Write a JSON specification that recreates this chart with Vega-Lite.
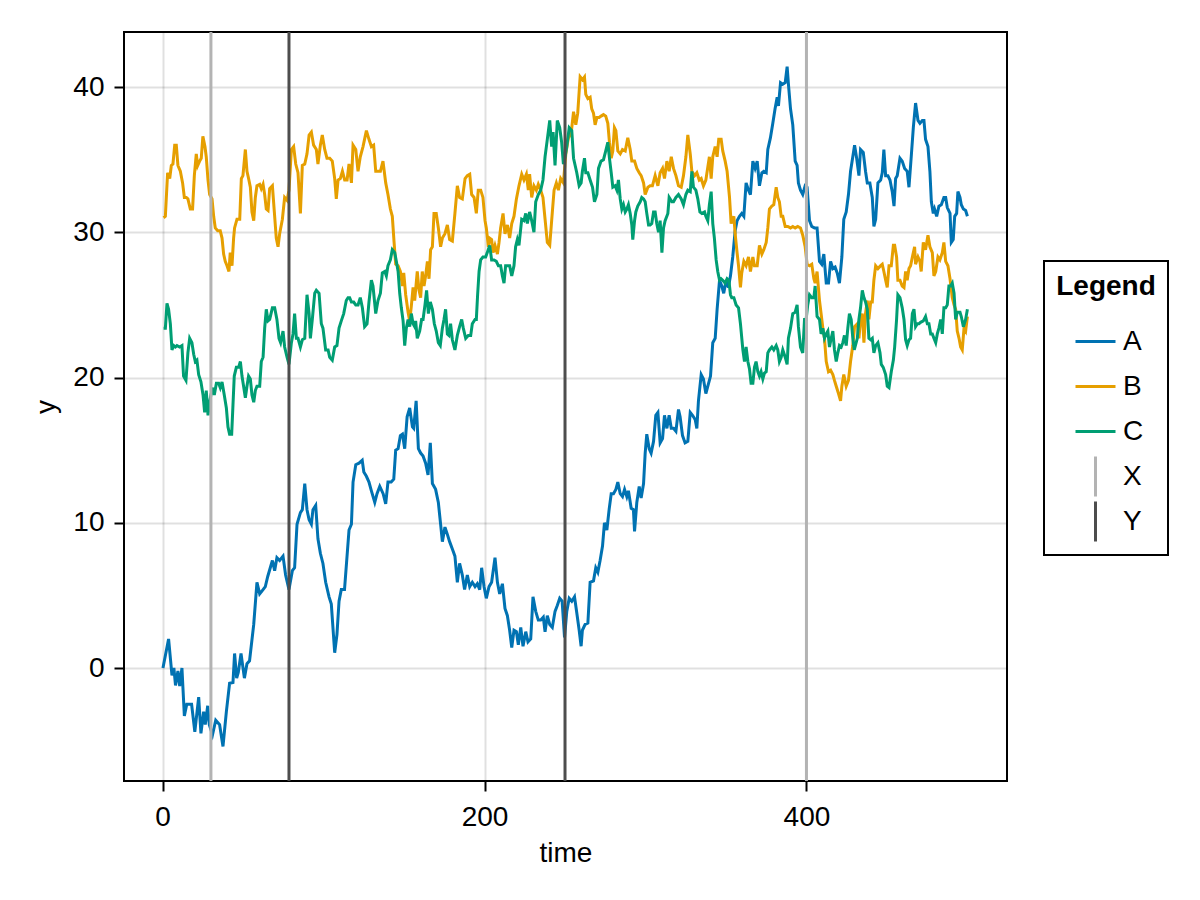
{
  "$schema": "https://vega.github.io/schema/vega-lite/v6.json",
  "width": 883,
  "height": 749,
  "autosize": {"type": "none"},
  "padding": {"left": 124, "top": 32, "right": 193, "bottom": 119},
  "background": "white",
  "config": {
    "font": "Liberation Sans",
    "view": {"stroke": "black", "strokeWidth": 2},
    "axis": {
      "grid": true,
      "gridColor": "black",
      "gridOpacity": 0.12,
      "gridWidth": 2,
      "domain": false,
      "ticks": true,
      "tickSize": 10,
      "tickWidth": 2,
      "tickColor": "black",
      "labelFontSize": 28,
      "labelColor": "black",
      "labelFlush": false,
      "titleFontSize": 28,
      "titleFontWeight": "normal",
      "titleColor": "black"
    }
  },
  "datasets": {
    "walks": [
      {"s":"A","t":0.2,"y":0},{"s":"A","t":3.7,"y":2.0},{"s":"A","t":5.8,"y":-0.5},{"s":"A","t":7,"y":0},{"s":"A","t":8,"y":-1.2},{"s":"A","t":9.5,"y":-0.2},{"s":"A","t":10.6,"y":-1.25},{"s":"A","t":12,"y":0},{"s":"A","t":13.5,"y":-3.3},{"s":"A","t":15,"y":-2.5},{"s":"A","t":18,"y":-2.5},{"s":"A","t":20,"y":-4.4},{"s":"A","t":22.4,"y":-2.0},{"s":"A","t":23.8,"y":-4.5},{"s":"A","t":25.5,"y":-3},{"s":"A","t":26.5,"y":-3.9},{"s":"A","t":28,"y":-2.6},{"s":"A","t":29,"y":-3.9},{"s":"A","t":31,"y":-4.6},{"s":"A","t":33,"y":-3.6},{"s":"A","t":35.4,"y":-3.9},{"s":"A","t":37.5,"y":-5.4},{"s":"A","t":39.6,"y":-3},{"s":"A","t":41.6,"y":-1.05},{"s":"A","t":43.7,"y":-1.0},{"s":"A","t":44.7,"y":1.0},{"s":"A","t":46,"y":-0.7},{"s":"A","t":47,"y":-0.3},{"s":"A","t":48.7,"y":1.0},{"s":"A","t":50.8,"y":-0.7},{"s":"A","t":52.4,"y":0.3},{"s":"A","t":54,"y":0.5},{"s":"A","t":56.6,"y":3.0},{"s":"A","t":58.6,"y":5.9},{"s":"A","t":60.3,"y":5.1},{"s":"A","t":62.4,"y":5.4},{"s":"A","t":63.8,"y":5.6},{"s":"A","t":65.3,"y":6.3},{"s":"A","t":68.2,"y":7.4},{"s":"A","t":69.6,"y":6.7},{"s":"A","t":71,"y":7.6},{"s":"A","t":72.7,"y":7.4},{"s":"A","t":74.8,"y":7.7},{"s":"A","t":76.4,"y":6.4},{"s":"A","t":78.5,"y":5.4},{"s":"A","t":80.6,"y":6.7},{"s":"A","t":82,"y":6.9},{"s":"A","t":83.5,"y":9.9},{"s":"A","t":85.6,"y":10.7},{"s":"A","t":86.8,"y":10.9},{"s":"A","t":88.3,"y":12.7},{"s":"A","t":89.7,"y":10.9},{"s":"A","t":91,"y":10.2},{"s":"A","t":92.4,"y":9.9},{"s":"A","t":93.4,"y":10.9},{"s":"A","t":95.1,"y":11.2},{"s":"A","t":96.5,"y":8.9},{"s":"A","t":98,"y":7.9},{"s":"A","t":99.6,"y":7.2},{"s":"A","t":101.3,"y":5.9},{"s":"A","t":103.4,"y":4.9},{"s":"A","t":104.8,"y":4.4},{"s":"A","t":106.9,"y":1.05},{"s":"A","t":108.3,"y":2.3},{"s":"A","t":109.6,"y":4.6},{"s":"A","t":111,"y":5.4},{"s":"A","t":113,"y":5.4},{"s":"A","t":115.8,"y":9.5},{"s":"A","t":117.3,"y":9.9},{"s":"A","t":118.3,"y":12.8},{"s":"A","t":120,"y":14.0},{"s":"A","t":122,"y":14.1},{"s":"A","t":124,"y":14.3},{"s":"A","t":125,"y":13.5},{"s":"A","t":126.6,"y":13.2},{"s":"A","t":128.2,"y":12.8},{"s":"A","t":129.7,"y":12.2},{"s":"A","t":131.8,"y":11.4},{"s":"A","t":133.2,"y":12.0},{"s":"A","t":134.9,"y":12.5},{"s":"A","t":137,"y":12.0},{"s":"A","t":138.6,"y":11.3},{"s":"A","t":140,"y":12.8},{"s":"A","t":142,"y":12.8},{"s":"A","t":143.6,"y":13.0},{"s":"A","t":144.8,"y":15.0},{"s":"A","t":146.3,"y":15.1},{"s":"A","t":147.7,"y":16.0},{"s":"A","t":149,"y":16.1},{"s":"A","t":150.4,"y":15.1},{"s":"A","t":151.9,"y":17.3},{"s":"A","t":153.5,"y":17.9},{"s":"A","t":155.2,"y":16.6},{"s":"A","t":156,"y":16.5},{"s":"A","t":157.5,"y":18.4},{"s":"A","t":158.9,"y":15.1},{"s":"A","t":160.3,"y":14.8},{"s":"A","t":161.8,"y":14.6},{"s":"A","t":163.4,"y":14.1},{"s":"A","t":164.9,"y":13.3},{"s":"A","t":166.3,"y":15.5},{"s":"A","t":167.6,"y":12.7},{"s":"A","t":169.6,"y":12.3},{"s":"A","t":171.3,"y":11.4},{"s":"A","t":172.7,"y":9.9},{"s":"A","t":173.8,"y":8.7},{"s":"A","t":175.4,"y":9.7},{"s":"A","t":176.9,"y":9.2},{"s":"A","t":178.3,"y":8.7},{"s":"A","t":180,"y":8.2},{"s":"A","t":181.6,"y":7.7},{"s":"A","t":183.1,"y":5.9},{"s":"A","t":184.5,"y":7.2},{"s":"A","t":186.2,"y":6.4},{"s":"A","t":187.6,"y":5.4},{"s":"A","t":189.3,"y":6.4},{"s":"A","t":190.8,"y":5.6},{"s":"A","t":192.4,"y":5.9},{"s":"A","t":194.1,"y":5.6},{"s":"A","t":195.5,"y":5.8},{"s":"A","t":197,"y":5.4},{"s":"A","t":198.2,"y":6.9},{"s":"A","t":199.7,"y":5.6},{"s":"A","t":201.1,"y":4.8},{"s":"A","t":202.8,"y":5.6},{"s":"A","t":204.4,"y":5.9},{"s":"A","t":206.5,"y":7.6},{"s":"A","t":208,"y":5.9},{"s":"A","t":209.4,"y":5.1},{"s":"A","t":211.1,"y":5.8},{"s":"A","t":212.7,"y":4.1},{"s":"A","t":214.2,"y":3.6},{"s":"A","t":215.6,"y":2.6},{"s":"A","t":216.9,"y":1.4},{"s":"A","t":218.3,"y":2.6},{"s":"A","t":219.8,"y":2.5},{"s":"A","t":221,"y":1.6},{"s":"A","t":222.5,"y":2.8},{"s":"A","t":223.9,"y":1.5},{"s":"A","t":225.6,"y":2.5},{"s":"A","t":227,"y":1.8},{"s":"A","t":228.7,"y":2.0},{"s":"A","t":230.1,"y":4.9},{"s":"A","t":231.8,"y":3.9},{"s":"A","t":233.4,"y":3.3},{"s":"A","t":234.9,"y":3.3},{"s":"A","t":236.5,"y":3.5},{"s":"A","t":237.6,"y":2.5},{"s":"A","t":239,"y":3.6},{"s":"A","t":240.5,"y":3.0},{"s":"A","t":242.1,"y":2.8},{"s":"A","t":243.8,"y":3.9},{"s":"A","t":245.2,"y":4.3},{"s":"A","t":246.7,"y":4.8},{"s":"A","t":248.2,"y":4.6},{"s":"A","t":249.7,"y":2.1},{"s":"A","t":251.1,"y":3.9},{"s":"A","t":252.6,"y":4.8},{"s":"A","t":254.2,"y":4.6},{"s":"A","t":255.9,"y":4.9},{"s":"A","t":257.3,"y":3.8},{"s":"A","t":258.8,"y":2.6},{"s":"A","t":260,"y":1.5},{"s":"A","t":260.8,"y":2.6},{"s":"A","t":262.5,"y":3.0},{"s":"A","t":264.2,"y":3.1},{"s":"A","t":265.6,"y":5.9},{"s":"A","t":267.7,"y":6.0},{"s":"A","t":269.1,"y":6.9},{"s":"A","t":270.4,"y":6.6},{"s":"A","t":271.8,"y":7.4},{"s":"A","t":273.3,"y":8.4},{"s":"A","t":274.5,"y":10.0},{"s":"A","t":276,"y":9.5},{"s":"A","t":277.4,"y":10.9},{"s":"A","t":278.7,"y":12.0},{"s":"A","t":280.1,"y":12.0},{"s":"A","t":281.6,"y":12.3},{"s":"A","t":282.8,"y":12.8},{"s":"A","t":284.3,"y":12.0},{"s":"A","t":285.7,"y":11.8},{"s":"A","t":287,"y":12.3},{"s":"A","t":288.4,"y":11.8},{"s":"A","t":289.4,"y":12.2},{"s":"A","t":291.1,"y":11.0},{"s":"A","t":292.5,"y":10.9},{"s":"A","t":293.2,"y":9.4},{"s":"A","t":294.6,"y":11.4},{"s":"A","t":296.1,"y":12.5},{"s":"A","t":297.3,"y":11.7},{"s":"A","t":298.8,"y":12.7},{"s":"A","t":299.8,"y":14.8},{"s":"A","t":300.8,"y":16.1},{"s":"A","t":302.3,"y":15.1},{"s":"A","t":303.5,"y":14.8},{"s":"A","t":305,"y":15.6},{"s":"A","t":306.4,"y":17.4},{"s":"A","t":307.7,"y":17.6},{"s":"A","t":309.1,"y":15.5},{"s":"A","t":310.6,"y":15.8},{"s":"A","t":311.8,"y":17.4},{"s":"A","t":313.3,"y":16.5},{"s":"A","t":314.7,"y":17.4},{"s":"A","t":316,"y":16.5},{"s":"A","t":317.4,"y":16.5},{"s":"A","t":318.9,"y":16.3},{"s":"A","t":320.5,"y":17.8},{"s":"A","t":321.5,"y":17.3},{"s":"A","t":323,"y":16.0},{"s":"A","t":324.6,"y":15.5},{"s":"A","t":326.3,"y":15.6},{"s":"A","t":327.8,"y":17.6},{"s":"A","t":329.2,"y":17.4},{"s":"A","t":330.9,"y":17.1},{"s":"A","t":331.9,"y":16.5},{"s":"A","t":332.9,"y":18.4},{"s":"A","t":334.6,"y":20.2},{"s":"A","t":336,"y":19.9},{"s":"A","t":337.5,"y":18.9},{"s":"A","t":340.4,"y":20.1},{"s":"A","t":341.8,"y":22.4},{"s":"A","t":343.3,"y":22.7},{"s":"A","t":344.5,"y":24.7},{"s":"A","t":346,"y":26.7},{"s":"A","t":347.4,"y":26.3},{"s":"A","t":348.6,"y":25.8},{"s":"A","t":350.1,"y":26.7},{"s":"A","t":351.5,"y":26.2},{"s":"A","t":352.8,"y":27.0},{"s":"A","t":354.2,"y":28.3},{"s":"A","t":355.7,"y":30.1},{"s":"A","t":356.9,"y":30.8},{"s":"A","t":358.4,"y":31.1},{"s":"A","t":359.8,"y":31.3},{"s":"A","t":361.1,"y":31.1},{"s":"A","t":362.5,"y":33.4},{"s":"A","t":364,"y":32.9},{"s":"A","t":365.2,"y":32.6},{"s":"A","t":366.7,"y":34.9},{"s":"A","t":368.1,"y":34.4},{"s":"A","t":369.4,"y":34.9},{"s":"A","t":370.8,"y":33.2},{"s":"A","t":372.3,"y":34.1},{"s":"A","t":373.5,"y":34.2},{"s":"A","t":375,"y":34.1},{"s":"A","t":376,"y":35.7},{"s":"A","t":377.6,"y":36.5},{"s":"A","t":379.1,"y":37.5},{"s":"A","t":380.5,"y":38.5},{"s":"A","t":381.8,"y":39.3},{"s":"A","t":382.6,"y":38.7},{"s":"A","t":383.9,"y":40.3},{"s":"A","t":385.3,"y":40.2},{"s":"A","t":386.8,"y":40.3},{"s":"A","t":388,"y":41.4},{"s":"A","t":388.8,"y":40.2},{"s":"A","t":390.1,"y":38.5},{"s":"A","t":391.5,"y":37.4},{"s":"A","t":393,"y":34.9},{"s":"A","t":394.2,"y":34.6},{"s":"A","t":395,"y":33.4},{"s":"A","t":396.3,"y":32.9},{"s":"A","t":397.7,"y":32.6},{"s":"A","t":399.2,"y":33.2},{"s":"A","t":400.4,"y":33.1},{"s":"A","t":401.9,"y":30.8},{"s":"A","t":403.3,"y":30.4},{"s":"A","t":405,"y":30.3},{"s":"A","t":406.6,"y":30.3},{"s":"A","t":408.1,"y":28.0},{"s":"A","t":409.5,"y":27.8},{"s":"A","t":410.8,"y":28.5},{"s":"A","t":412.3,"y":26.5},{"s":"A","t":413.7,"y":26.5},{"s":"A","t":415,"y":28.0},{"s":"A","t":416.4,"y":27.5},{"s":"A","t":417.8,"y":27.6},{"s":"A","t":419.1,"y":27.2},{"s":"A","t":420.5,"y":26.5},{"s":"A","t":422,"y":28.3},{"s":"A","t":423.2,"y":30.9},{"s":"A","t":424.7,"y":31.4},{"s":"A","t":426.1,"y":32.6},{"s":"A","t":427.4,"y":34.2},{"s":"A","t":428.8,"y":35.2},{"s":"A","t":429.9,"y":36.0},{"s":"A","t":431.2,"y":35.1},{"s":"A","t":432.6,"y":33.9},{"s":"A","t":433.6,"y":35.7},{"s":"A","t":435.3,"y":35.5},{"s":"A","t":436.7,"y":34.2},{"s":"A","t":437.8,"y":33.4},{"s":"A","t":439.4,"y":33.4},{"s":"A","t":440.9,"y":32.4},{"s":"A","t":441.9,"y":30.4},{"s":"A","t":443,"y":30.9},{"s":"A","t":444.4,"y":33.4},{"s":"A","t":446.1,"y":33.6},{"s":"A","t":447.1,"y":34.1},{"s":"A","t":448.1,"y":35.7},{"s":"A","t":449.2,"y":33.9},{"s":"A","t":450.6,"y":33.9},{"s":"A","t":451.9,"y":33.6},{"s":"A","t":453.3,"y":32.8},{"s":"A","t":454.4,"y":31.8},{"s":"A","t":455.4,"y":33.7},{"s":"A","t":456.4,"y":33.9},{"s":"A","t":458.1,"y":35.1},{"s":"A","t":459.5,"y":34.9},{"s":"A","t":461,"y":34.4},{"s":"A","t":462.6,"y":34.2},{"s":"A","t":463.7,"y":33.1},{"s":"A","t":465.1,"y":35.2},{"s":"A","t":466.4,"y":37.2},{"s":"A","t":467.8,"y":38.9},{"s":"A","t":469.3,"y":37.7},{"s":"A","t":470.5,"y":37.5},{"s":"A","t":472,"y":37.7},{"s":"A","t":473,"y":37.7},{"s":"A","t":474,"y":36.4},{"s":"A","t":475.5,"y":35.9},{"s":"A","t":476.7,"y":34.2},{"s":"A","t":477.6,"y":32.1},{"s":"A","t":478.8,"y":31.3},{"s":"A","t":479.6,"y":31.6},{"s":"A","t":480.9,"y":31.1},{"s":"A","t":482.3,"y":31.8},{"s":"A","t":483.8,"y":31.9},{"s":"A","t":485.4,"y":32.4},{"s":"A","t":486.5,"y":32.4},{"s":"A","t":487.5,"y":31.7},{"s":"A","t":489.2,"y":31.3},{"s":"A","t":490,"y":29.3},{"s":"A","t":491.2,"y":29.5},{"s":"A","t":492.1,"y":31.1},{"s":"A","t":493.3,"y":31.3},{"s":"A","t":494.1,"y":32.8},{"s":"A","t":495.4,"y":32.4},{"s":"A","t":496.2,"y":31.9},{"s":"A","t":497.5,"y":31.6},{"s":"A","t":498.9,"y":31.5},{"s":"A","t":500,"y":31.1},
      {"s":"B","t":0.6,"y":31.0},{"s":"B","t":1.7,"y":31.1},{"s":"B","t":3.1,"y":34.1},{"s":"B","t":4.4,"y":33.7},{"s":"B","t":5.4,"y":34.6},{"s":"B","t":6.4,"y":34.7},{"s":"B","t":7.5,"y":36.0},{"s":"B","t":8.5,"y":36.0},{"s":"B","t":9.5,"y":34.6},{"s":"B","t":11,"y":34.2},{"s":"B","t":12.4,"y":33.4},{"s":"B","t":13.5,"y":32.4},{"s":"B","t":14.7,"y":32.4},{"s":"B","t":15.7,"y":32.3},{"s":"B","t":17.2,"y":31.6},{"s":"B","t":18.6,"y":31.6},{"s":"B","t":19.7,"y":33.9},{"s":"B","t":20.9,"y":35.4},{"s":"B","t":21.8,"y":34.6},{"s":"B","t":23,"y":34.9},{"s":"B","t":24,"y":35.1},{"s":"B","t":25,"y":36.6},{"s":"B","t":26.3,"y":35.9},{"s":"B","t":27.1,"y":35.2},{"s":"B","t":28.2,"y":33.6},{"s":"B","t":29.2,"y":32.6},{"s":"B","t":30.7,"y":32.3},{"s":"B","t":31.7,"y":31.1},{"s":"B","t":32.7,"y":30.3},{"s":"B","t":34.2,"y":30.1},{"s":"B","t":35.8,"y":30.1},{"s":"B","t":36.9,"y":29.6},{"s":"B","t":37.9,"y":28.5},{"s":"B","t":38.9,"y":28.0},{"s":"B","t":40,"y":27.7},{"s":"B","t":41.2,"y":27.3},{"s":"B","t":42,"y":28.6},{"s":"B","t":43.1,"y":27.7},{"s":"B","t":44.1,"y":29.6},{"s":"B","t":44.7,"y":30.3},{"s":"B","t":46.2,"y":30.9},{"s":"B","t":47.9,"y":30.9},{"s":"B","t":48.9,"y":33.7},{"s":"B","t":49.9,"y":33.9},{"s":"B","t":51.4,"y":35.7},{"s":"B","t":52.4,"y":34.2},{"s":"B","t":53.4,"y":33.7},{"s":"B","t":54.5,"y":33.1},{"s":"B","t":55.5,"y":31.4},{"s":"B","t":56.6,"y":30.8},{"s":"B","t":57.6,"y":32.4},{"s":"B","t":58.6,"y":33.2},{"s":"B","t":60.3,"y":33.3},{"s":"B","t":61.3,"y":33.0},{"s":"B","t":62.4,"y":33.3},{"s":"B","t":63.4,"y":32.6},{"s":"B","t":64.4,"y":31.6},{"s":"B","t":65.5,"y":31.5},{"s":"B","t":66.5,"y":33.0},{"s":"B","t":68.2,"y":33.2},{"s":"B","t":69.4,"y":31.4},{"s":"B","t":70.6,"y":29.6},{"s":"B","t":71.7,"y":29.0},{"s":"B","t":72.7,"y":29.9},{"s":"B","t":74.4,"y":30.9},{"s":"B","t":75.8,"y":32.4},{"s":"B","t":77.3,"y":32.2},{"s":"B","t":78.5,"y":32.9},{"s":"B","t":80,"y":35.7},{"s":"B","t":81.4,"y":35.9},{"s":"B","t":82.7,"y":34.7},{"s":"B","t":84.1,"y":34.1},{"s":"B","t":85.6,"y":31.3},{"s":"B","t":86.8,"y":34.6},{"s":"B","t":88.3,"y":34.7},{"s":"B","t":89.7,"y":35.4},{"s":"B","t":91,"y":36.7},{"s":"B","t":92.4,"y":36.9},{"s":"B","t":93.8,"y":36.0},{"s":"B","t":95.5,"y":35.7},{"s":"B","t":96.5,"y":34.7},{"s":"B","t":98,"y":36.0},{"s":"B","t":99.2,"y":36.7},{"s":"B","t":100.7,"y":35.7},{"s":"B","t":102.1,"y":35.1},{"s":"B","t":103.8,"y":35.1},{"s":"B","t":105.4,"y":34.9},{"s":"B","t":106.9,"y":33.7},{"s":"B","t":107.9,"y":32.3},{"s":"B","t":109,"y":33.6},{"s":"B","t":110.4,"y":33.7},{"s":"B","t":111.7,"y":34.2},{"s":"B","t":113.1,"y":33.6},{"s":"B","t":114.6,"y":33.6},{"s":"B","t":115.8,"y":34.7},{"s":"B","t":117.3,"y":33.4},{"s":"B","t":118.3,"y":36.0},{"s":"B","t":120,"y":35.7},{"s":"B","t":121.4,"y":34.2},{"s":"B","t":122.8,"y":35.2},{"s":"B","t":124.5,"y":35.9},{"s":"B","t":126.6,"y":37.0},{"s":"B","t":128.2,"y":36.4},{"s":"B","t":129.7,"y":35.9},{"s":"B","t":131.1,"y":36.0},{"s":"B","t":132.4,"y":34.2},{"s":"B","t":133.8,"y":34.2},{"s":"B","t":135.3,"y":34.2},{"s":"B","t":136.9,"y":34.9},{"s":"B","t":138.6,"y":33.4},{"s":"B","t":140,"y":32.6},{"s":"B","t":141.5,"y":31.6},{"s":"B","t":142.7,"y":31.1},{"s":"B","t":143.8,"y":29.3},{"s":"B","t":144.8,"y":27.8},{"s":"B","t":146.3,"y":27.7},{"s":"B","t":147.7,"y":27.3},{"s":"B","t":149,"y":26.3},{"s":"B","t":149.8,"y":27.2},{"s":"B","t":151,"y":25.7},{"s":"B","t":152.5,"y":24.5},{"s":"B","t":153.5,"y":23.9},{"s":"B","t":154.5,"y":24.9},{"s":"B","t":155.6,"y":26.2},{"s":"B","t":156.6,"y":25.3},{"s":"B","t":158.2,"y":27.3},{"s":"B","t":159.3,"y":26.0},{"s":"B","t":160.3,"y":25.5},{"s":"B","t":161.3,"y":27.3},{"s":"B","t":162.4,"y":26.3},{"s":"B","t":163.4,"y":27.0},{"s":"B","t":164.5,"y":28.0},{"s":"B","t":165.5,"y":26.8},{"s":"B","t":166.5,"y":28.8},{"s":"B","t":167.6,"y":29.0},{"s":"B","t":168.6,"y":31.3},{"s":"B","t":170,"y":31.3},{"s":"B","t":171.3,"y":30.3},{"s":"B","t":172.7,"y":29.0},{"s":"B","t":173.8,"y":29.6},{"s":"B","t":175.4,"y":29.9},{"s":"B","t":176.9,"y":30.5},{"s":"B","t":178.3,"y":29.5},{"s":"B","t":180,"y":29.4},{"s":"B","t":181.6,"y":31.3},{"s":"B","t":183.1,"y":33.2},{"s":"B","t":184.5,"y":32.4},{"s":"B","t":186.2,"y":32.3},{"s":"B","t":187.9,"y":33.7},{"s":"B","t":189.3,"y":33.9},{"s":"B","t":190.8,"y":34.0},{"s":"B","t":192,"y":32.6},{"s":"B","t":193.5,"y":32.4},{"s":"B","t":194.9,"y":31.3},{"s":"B","t":196.1,"y":32.9},{"s":"B","t":197.6,"y":32.9},{"s":"B","t":199,"y":32.4},{"s":"B","t":200.3,"y":30.8},{"s":"B","t":201.1,"y":30.3},{"s":"B","t":202.4,"y":29.0},{"s":"B","t":203.2,"y":29.6},{"s":"B","t":204.4,"y":29.5},{"s":"B","t":205.3,"y":28.6},{"s":"B","t":206.5,"y":29.1},{"s":"B","t":208,"y":28.5},{"s":"B","t":209,"y":29.3},{"s":"B","t":210,"y":30.3},{"s":"B","t":211.5,"y":31.3},{"s":"B","t":212.7,"y":29.9},{"s":"B","t":214.2,"y":30.5},{"s":"B","t":215.6,"y":29.6},{"s":"B","t":216.9,"y":30.6},{"s":"B","t":218.3,"y":31.1},{"s":"B","t":219.8,"y":32.3},{"s":"B","t":221.4,"y":33.2},{"s":"B","t":223.1,"y":34.0},{"s":"B","t":224.5,"y":33.6},{"s":"B","t":226,"y":34.0},{"s":"B","t":227.2,"y":32.9},{"s":"B","t":228,"y":34.0},{"s":"B","t":229.3,"y":32.4},{"s":"B","t":230.7,"y":33.2},{"s":"B","t":232.2,"y":32.9},{"s":"B","t":233.4,"y":33.3},{"s":"B","t":234.9,"y":32.9},{"s":"B","t":236.3,"y":32.4},{"s":"B","t":237.6,"y":30.9},{"s":"B","t":239,"y":29.3},{"s":"B","t":240.5,"y":29.1},{"s":"B","t":241.7,"y":30.8},{"s":"B","t":243.2,"y":32.9},{"s":"B","t":244.6,"y":33.4},{"s":"B","t":245.9,"y":32.9},{"s":"B","t":247.3,"y":33.7},{"s":"B","t":249,"y":33.4},{"s":"B","t":250.5,"y":35.4},{"s":"B","t":252.1,"y":36.5},{"s":"B","t":253.8,"y":36.8},{"s":"B","t":255.3,"y":38.3},{"s":"B","t":256.7,"y":37.4},{"s":"B","t":257.9,"y":38.2},{"s":"B","t":259.4,"y":40.7},{"s":"B","t":260.8,"y":40.5},{"s":"B","t":262.1,"y":40.7},{"s":"B","t":262.9,"y":39.5},{"s":"B","t":264.2,"y":39.2},{"s":"B","t":265.6,"y":39.3},{"s":"B","t":266.6,"y":38.5},{"s":"B","t":267.7,"y":38.2},{"s":"B","t":268.7,"y":37.4},{"s":"B","t":269.8,"y":37.9},{"s":"B","t":271.2,"y":37.9},{"s":"B","t":272.4,"y":38.0},{"s":"B","t":273.9,"y":38.1},{"s":"B","t":275.3,"y":38.0},{"s":"B","t":276.6,"y":37.5},{"s":"B","t":277.6,"y":36.2},{"s":"B","t":278.7,"y":35.1},{"s":"B","t":279.7,"y":35.6},{"s":"B","t":280.7,"y":37.2},{"s":"B","t":281.6,"y":37.0},{"s":"B","t":282.8,"y":35.6},{"s":"B","t":284.3,"y":35.4},{"s":"B","t":285.7,"y":35.7},{"s":"B","t":287.4,"y":35.6},{"s":"B","t":289,"y":36.5},{"s":"B","t":290.5,"y":35.7},{"s":"B","t":291.5,"y":34.9},{"s":"B","t":293.2,"y":34.9},{"s":"B","t":294.6,"y":34.4},{"s":"B","t":296.1,"y":34.1},{"s":"B","t":297.3,"y":33.9},{"s":"B","t":298.8,"y":33.4},{"s":"B","t":299.8,"y":32.6},{"s":"B","t":301.5,"y":33.1},{"s":"B","t":302.9,"y":33.2},{"s":"B","t":304.3,"y":33.2},{"s":"B","t":306,"y":33.9},{"s":"B","t":307.7,"y":33.2},{"s":"B","t":309.1,"y":34.1},{"s":"B","t":310.6,"y":34.4},{"s":"B","t":311.8,"y":33.7},{"s":"B","t":313.3,"y":34.9},{"s":"B","t":314.7,"y":34.2},{"s":"B","t":316,"y":35.2},{"s":"B","t":317.4,"y":34.4},{"s":"B","t":318.9,"y":33.9},{"s":"B","t":320.5,"y":33.2},{"s":"B","t":322.2,"y":33.1},{"s":"B","t":323.6,"y":33.9},{"s":"B","t":325.1,"y":35.2},{"s":"B","t":326.3,"y":36.7},{"s":"B","t":327.8,"y":35.4},{"s":"B","t":328.8,"y":34.2},{"s":"B","t":330.5,"y":33.9},{"s":"B","t":331.9,"y":34.1},{"s":"B","t":333.4,"y":33.6},{"s":"B","t":334.6,"y":33.7},{"s":"B","t":336,"y":33.2},{"s":"B","t":337.5,"y":33.6},{"s":"B","t":339.7,"y":35.2},{"s":"B","t":340.8,"y":33.7},{"s":"B","t":341.8,"y":35.2},{"s":"B","t":343.3,"y":35.9},{"s":"B","t":344.5,"y":35.2},{"s":"B","t":345.5,"y":36.4},{"s":"B","t":347,"y":36.4},{"s":"B","t":348,"y":35.6},{"s":"B","t":349.5,"y":34.9},{"s":"B","t":350.7,"y":34.2},{"s":"B","t":352.2,"y":32.4},{"s":"B","t":353.2,"y":30.6},{"s":"B","t":354.9,"y":31.1},{"s":"B","t":355.7,"y":29.9},{"s":"B","t":356.9,"y":28.6},{"s":"B","t":357.8,"y":27.7},{"s":"B","t":359,"y":26.2},{"s":"B","t":359.8,"y":27.2},{"s":"B","t":361.1,"y":28.0},{"s":"B","t":362.5,"y":27.7},{"s":"B","t":364,"y":28.3},{"s":"B","t":365.2,"y":27.3},{"s":"B","t":366.7,"y":28.3},{"s":"B","t":367.7,"y":27.7},{"s":"B","t":369.4,"y":27.7},{"s":"B","t":370.8,"y":29.1},{"s":"B","t":372.3,"y":28.5},{"s":"B","t":373.5,"y":28.8},{"s":"B","t":375,"y":29.3},{"s":"B","t":376,"y":30.3},{"s":"B","t":377,"y":31.6},{"s":"B","t":378.5,"y":31.8},{"s":"B","t":379.7,"y":31.9},{"s":"B","t":381.2,"y":33.1},{"s":"B","t":382.2,"y":32.4},{"s":"B","t":383.2,"y":32.1},{"s":"B","t":384.3,"y":31.1},{"s":"B","t":385.3,"y":31.1},{"s":"B","t":386.8,"y":30.4},{"s":"B","t":388.4,"y":30.4},{"s":"B","t":390.1,"y":30.3},{"s":"B","t":391.5,"y":30.4},{"s":"B","t":393,"y":30.3},{"s":"B","t":394.6,"y":30.4},{"s":"B","t":396.3,"y":30.3},{"s":"B","t":397.7,"y":29.8},{"s":"B","t":399.2,"y":29.0},{"s":"B","t":400.4,"y":27.8},{"s":"B","t":401.9,"y":27.7},{"s":"B","t":403.3,"y":27.8},{"s":"B","t":404.6,"y":26.8},{"s":"B","t":405.4,"y":26.5},{"s":"B","t":406.6,"y":27.3},{"s":"B","t":408.1,"y":25.3},{"s":"B","t":409.1,"y":24.4},{"s":"B","t":410.2,"y":23.4},{"s":"B","t":411.2,"y":22.7},{"s":"B","t":412.3,"y":21.1},{"s":"B","t":413.7,"y":20.4},{"s":"B","t":415,"y":20.5},{"s":"B","t":416.4,"y":20.2},{"s":"B","t":417.4,"y":19.8},{"s":"B","t":418.5,"y":19.4},{"s":"B","t":419.9,"y":18.9},{"s":"B","t":421.2,"y":18.4},{"s":"B","t":422,"y":19.4},{"s":"B","t":423.2,"y":20.2},{"s":"B","t":424.7,"y":19.4},{"s":"B","t":426.1,"y":19.8},{"s":"B","t":427.4,"y":21.1},{"s":"B","t":428.8,"y":22.2},{"s":"B","t":429.9,"y":23.5},{"s":"B","t":431.6,"y":23.7},{"s":"B","t":432.6,"y":22.7},{"s":"B","t":433.6,"y":24.0},{"s":"B","t":434.7,"y":24.4},{"s":"B","t":435.7,"y":22.4},{"s":"B","t":436.7,"y":24.4},{"s":"B","t":437.8,"y":25.3},{"s":"B","t":438.8,"y":24.0},{"s":"B","t":439.9,"y":25.2},{"s":"B","t":440.9,"y":25.2},{"s":"B","t":441.9,"y":26.7},{"s":"B","t":443,"y":27.7},{"s":"B","t":444.4,"y":27.5},{"s":"B","t":446.1,"y":27.7},{"s":"B","t":447.1,"y":27.8},{"s":"B","t":448.1,"y":27.3},{"s":"B","t":449.2,"y":26.7},{"s":"B","t":450.2,"y":26.2},{"s":"B","t":451.3,"y":27.7},{"s":"B","t":452.7,"y":27.7},{"s":"B","t":454,"y":29.1},{"s":"B","t":454.8,"y":29.1},{"s":"B","t":456,"y":28.3},{"s":"B","t":456.8,"y":26.7},{"s":"B","t":458.1,"y":26.7},{"s":"B","t":459.5,"y":26.3},{"s":"B","t":460.6,"y":26.2},{"s":"B","t":461.6,"y":27.3},{"s":"B","t":462.6,"y":26.7},{"s":"B","t":463.7,"y":27.5},{"s":"B","t":464.7,"y":27.7},{"s":"B","t":465.8,"y":28.3},{"s":"B","t":467.2,"y":29.0},{"s":"B","t":467.8,"y":27.8},{"s":"B","t":469.3,"y":28.3},{"s":"B","t":470.5,"y":28.0},{"s":"B","t":471.3,"y":27.3},{"s":"B","t":472.6,"y":29.3},{"s":"B","t":474,"y":28.8},{"s":"B","t":475.5,"y":29.8},{"s":"B","t":476.7,"y":29.0},{"s":"B","t":478.2,"y":28.6},{"s":"B","t":479.2,"y":27.0},{"s":"B","t":480.3,"y":27.3},{"s":"B","t":481.7,"y":28.3},{"s":"B","t":482.9,"y":28.1},{"s":"B","t":484.4,"y":28.6},{"s":"B","t":485.4,"y":29.3},{"s":"B","t":486.5,"y":28.0},{"s":"B","t":487.9,"y":27.7},{"s":"B","t":489.2,"y":26.8},{"s":"B","t":490.6,"y":25.5},{"s":"B","t":491.7,"y":25.0},{"s":"B","t":492.7,"y":24.7},{"s":"B","t":493.7,"y":23.2},{"s":"B","t":494.8,"y":22.7},{"s":"B","t":495.8,"y":22.1},{"s":"B","t":496.8,"y":21.9},{"s":"B","t":497.9,"y":23.4},{"s":"B","t":498.9,"y":23.2},{"s":"B","t":500,"y":24.2},
      {"s":"C","t":0.6,"y":23.4},{"s":"C","t":1.7,"y":23.4},{"s":"C","t":2.7,"y":25.1},{"s":"C","t":3.7,"y":24.7},{"s":"C","t":4.8,"y":23.7},{"s":"C","t":5.8,"y":21.9},{"s":"C","t":6.8,"y":22.2},{"s":"C","t":7.9,"y":22.1},{"s":"C","t":8.9,"y":22.2},{"s":"C","t":10.6,"y":22.1},{"s":"C","t":12,"y":22.2},{"s":"C","t":13,"y":20.1},{"s":"C","t":14.5,"y":19.8},{"s":"C","t":15.7,"y":21.7},{"s":"C","t":16.8,"y":22.7},{"s":"C","t":18.2,"y":22.4},{"s":"C","t":19.3,"y":21.6},{"s":"C","t":20.3,"y":21.1},{"s":"C","t":21.3,"y":21.2},{"s":"C","t":22.4,"y":20.2},{"s":"C","t":23.8,"y":19.7},{"s":"C","t":25.1,"y":18.8},{"s":"C","t":26.1,"y":17.6},{"s":"C","t":27.1,"y":19.1},{"s":"C","t":28.2,"y":17.4},{"s":"C","t":29.2,"y":18.3},{"s":"C","t":30,"y":18.8},{"s":"C","t":31.3,"y":19.3},{"s":"C","t":32.1,"y":18.8},{"s":"C","t":33.4,"y":19.6},{"s":"C","t":34.8,"y":19.6},{"s":"C","t":35.8,"y":19.3},{"s":"C","t":36.9,"y":19.7},{"s":"C","t":38.3,"y":18.8},{"s":"C","t":39.6,"y":17.9},{"s":"C","t":40.6,"y":16.6},{"s":"C","t":41.6,"y":16.1},{"s":"C","t":42.9,"y":16.1},{"s":"C","t":43.7,"y":18.1},{"s":"C","t":44.5,"y":20.1},{"s":"C","t":45.8,"y":20.7},{"s":"C","t":47.2,"y":20.7},{"s":"C","t":48.3,"y":21.1},{"s":"C","t":49.3,"y":20.1},{"s":"C","t":50.3,"y":19.4},{"s":"C","t":51.4,"y":18.6},{"s":"C","t":52.4,"y":19.4},{"s":"C","t":53.4,"y":20.1},{"s":"C","t":54.5,"y":19.9},{"s":"C","t":55.5,"y":18.8},{"s":"C","t":56.6,"y":18.3},{"s":"C","t":57.6,"y":19.1},{"s":"C","t":58.6,"y":19.4},{"s":"C","t":60.3,"y":19.4},{"s":"C","t":61.3,"y":21.1},{"s":"C","t":62.4,"y":21.4},{"s":"C","t":63.4,"y":23.4},{"s":"C","t":64.4,"y":24.7},{"s":"C","t":65.5,"y":23.9},{"s":"C","t":66.5,"y":24.0},{"s":"C","t":68.2,"y":24.8},{"s":"C","t":69.6,"y":24.8},{"s":"C","t":71,"y":24.0},{"s":"C","t":72.3,"y":22.7},{"s":"C","t":73.3,"y":22.4},{"s":"C","t":74.8,"y":23.2},{"s":"C","t":75.8,"y":22.1},{"s":"C","t":77.3,"y":21.4},{"s":"C","t":78.5,"y":20.9},{"s":"C","t":80,"y":22.4},{"s":"C","t":81,"y":23.0},{"s":"C","t":82,"y":24.4},{"s":"C","t":83.1,"y":22.7},{"s":"C","t":84.1,"y":22.7},{"s":"C","t":85.6,"y":22.1},{"s":"C","t":86.8,"y":22.6},{"s":"C","t":88.3,"y":22.7},{"s":"C","t":89.7,"y":25.7},{"s":"C","t":91,"y":24.4},{"s":"C","t":91.8,"y":22.7},{"s":"C","t":93,"y":24.0},{"s":"C","t":94.5,"y":25.8},{"s":"C","t":95.5,"y":26.0},{"s":"C","t":97.2,"y":25.8},{"s":"C","t":98.6,"y":23.7},{"s":"C","t":99.6,"y":23.4},{"s":"C","t":101.3,"y":21.9},{"s":"C","t":102.8,"y":21.9},{"s":"C","t":103.8,"y":21.4},{"s":"C","t":105.4,"y":21.2},{"s":"C","t":106.9,"y":22.1},{"s":"C","t":108.3,"y":22.2},{"s":"C","t":109.6,"y":23.4},{"s":"C","t":111,"y":23.9},{"s":"C","t":112.5,"y":24.4},{"s":"C","t":114.1,"y":25.3},{"s":"C","t":115.2,"y":25.5},{"s":"C","t":116.2,"y":25.5},{"s":"C","t":117.3,"y":25.2},{"s":"C","t":118.7,"y":25.2},{"s":"C","t":120,"y":25.0},{"s":"C","t":121.4,"y":25.0},{"s":"C","t":122.8,"y":25.5},{"s":"C","t":124.1,"y":24.8},{"s":"C","t":125.5,"y":23.5},{"s":"C","t":127,"y":23.7},{"s":"C","t":128.2,"y":25.2},{"s":"C","t":129.7,"y":26.7},{"s":"C","t":130.7,"y":26.3},{"s":"C","t":132.4,"y":24.4},{"s":"C","t":133.8,"y":25.3},{"s":"C","t":135.3,"y":25.8},{"s":"C","t":136.5,"y":27.2},{"s":"C","t":138,"y":27.3},{"s":"C","t":139,"y":27.0},{"s":"C","t":140,"y":27.7},{"s":"C","t":141.5,"y":28.1},{"s":"C","t":142.7,"y":28.8},{"s":"C","t":144.2,"y":28.6},{"s":"C","t":145.2,"y":28.0},{"s":"C","t":146.3,"y":27.3},{"s":"C","t":147.3,"y":25.8},{"s":"C","t":148.3,"y":24.8},{"s":"C","t":149.4,"y":23.9},{"s":"C","t":150.4,"y":22.2},{"s":"C","t":151.4,"y":23.4},{"s":"C","t":152.5,"y":24.0},{"s":"C","t":153.5,"y":23.5},{"s":"C","t":154.5,"y":24.4},{"s":"C","t":155.6,"y":23.7},{"s":"C","t":156.6,"y":23.5},{"s":"C","t":157.2,"y":23.9},{"s":"C","t":158.2,"y":22.7},{"s":"C","t":159.7,"y":23.2},{"s":"C","t":160.9,"y":24.0},{"s":"C","t":161.8,"y":24.0},{"s":"C","t":163,"y":25.0},{"s":"C","t":164,"y":26.0},{"s":"C","t":165.1,"y":24.4},{"s":"C","t":166.3,"y":25.2},{"s":"C","t":167.6,"y":24.7},{"s":"C","t":168.8,"y":23.7},{"s":"C","t":170,"y":23.2},{"s":"C","t":171.3,"y":22.4},{"s":"C","t":172.5,"y":22.2},{"s":"C","t":173.8,"y":23.4},{"s":"C","t":174.8,"y":24.0},{"s":"C","t":175.8,"y":24.7},{"s":"C","t":176.9,"y":23.0},{"s":"C","t":177.9,"y":22.9},{"s":"C","t":178.9,"y":23.7},{"s":"C","t":180,"y":22.6},{"s":"C","t":181.6,"y":21.9},{"s":"C","t":183.1,"y":22.9},{"s":"C","t":184.5,"y":23.5},{"s":"C","t":185.8,"y":24.0},{"s":"C","t":186.8,"y":23.4},{"s":"C","t":188.3,"y":22.7},{"s":"C","t":189.9,"y":22.9},{"s":"C","t":191.4,"y":22.9},{"s":"C","t":192.4,"y":23.7},{"s":"C","t":194.1,"y":24.0},{"s":"C","t":194.9,"y":24.0},{"s":"C","t":195.7,"y":25.7},{"s":"C","t":196.6,"y":27.3},{"s":"C","t":197.6,"y":28.1},{"s":"C","t":199,"y":28.3},{"s":"C","t":200.7,"y":28.3},{"s":"C","t":201.7,"y":28.6},{"s":"C","t":203.2,"y":29.1},{"s":"C","t":204.4,"y":28.1},{"s":"C","t":205.9,"y":28.1},{"s":"C","t":207.3,"y":28.0},{"s":"C","t":208.6,"y":27.7},{"s":"C","t":210,"y":27.7},{"s":"C","t":211.1,"y":27.0},{"s":"C","t":212.1,"y":26.5},{"s":"C","t":213.1,"y":27.7},{"s":"C","t":214.2,"y":27.7},{"s":"C","t":215.6,"y":27.7},{"s":"C","t":216.9,"y":27.0},{"s":"C","t":218.3,"y":27.7},{"s":"C","t":219.3,"y":29.0},{"s":"C","t":220.4,"y":29.5},{"s":"C","t":221.4,"y":29.1},{"s":"C","t":223.1,"y":30.9},{"s":"C","t":224.5,"y":30.8},{"s":"C","t":225.6,"y":31.3},{"s":"C","t":226.6,"y":30.6},{"s":"C","t":228,"y":31.4},{"s":"C","t":229.3,"y":30.8},{"s":"C","t":230.7,"y":30.0},{"s":"C","t":231.8,"y":32.1},{"s":"C","t":233.4,"y":32.6},{"s":"C","t":234.9,"y":32.9},{"s":"C","t":236.3,"y":33.6},{"s":"C","t":237.6,"y":35.2},{"s":"C","t":239,"y":36.4},{"s":"C","t":240.5,"y":37.7},{"s":"C","t":241.7,"y":35.9},{"s":"C","t":242.6,"y":36.9},{"s":"C","t":243.8,"y":34.6},{"s":"C","t":245.2,"y":37.7},{"s":"C","t":246.7,"y":37.2},{"s":"C","t":247.9,"y":36.2},{"s":"C","t":249,"y":34.7},{"s":"C","t":250.1,"y":35.2},{"s":"C","t":251.1,"y":35.9},{"s":"C","t":252.6,"y":37.2},{"s":"C","t":254.2,"y":37.0},{"s":"C","t":255.3,"y":35.1},{"s":"C","t":256.3,"y":34.6},{"s":"C","t":257.3,"y":34.1},{"s":"C","t":258.8,"y":33.2},{"s":"C","t":260,"y":33.4},{"s":"C","t":260.8,"y":34.2},{"s":"C","t":262.1,"y":35.1},{"s":"C","t":262.9,"y":34.1},{"s":"C","t":264.2,"y":34.1},{"s":"C","t":265.6,"y":33.6},{"s":"C","t":267.1,"y":33.1},{"s":"C","t":268.3,"y":32.1},{"s":"C","t":269.8,"y":32.6},{"s":"C","t":270.8,"y":34.4},{"s":"C","t":272.4,"y":34.9},{"s":"C","t":273.9,"y":35.0},{"s":"C","t":275.3,"y":35.6},{"s":"C","t":276.6,"y":36.2},{"s":"C","t":277.6,"y":35.1},{"s":"C","t":278.7,"y":34.1},{"s":"C","t":279.7,"y":33.1},{"s":"C","t":281.1,"y":33.2},{"s":"C","t":282.2,"y":32.9},{"s":"C","t":283.2,"y":33.6},{"s":"C","t":284.3,"y":32.3},{"s":"C","t":285.3,"y":31.6},{"s":"C","t":286.3,"y":31.9},{"s":"C","t":287.4,"y":31.4},{"s":"C","t":288.4,"y":31.6},{"s":"C","t":289.4,"y":31.9},{"s":"C","t":290.5,"y":31.3},{"s":"C","t":291.5,"y":30.5},{"s":"C","t":292.1,"y":29.5},{"s":"C","t":293.2,"y":30.8},{"s":"C","t":294,"y":31.4},{"s":"C","t":295.2,"y":31.8},{"s":"C","t":296.7,"y":32.1},{"s":"C","t":297.7,"y":32.4},{"s":"C","t":298.8,"y":32.3},{"s":"C","t":299.8,"y":32.1},{"s":"C","t":300.8,"y":31.3},{"s":"C","t":301.9,"y":30.5},{"s":"C","t":302.9,"y":30.5},{"s":"C","t":303.9,"y":30.6},{"s":"C","t":305,"y":31.4},{"s":"C","t":306,"y":31.4},{"s":"C","t":307,"y":30.6},{"s":"C","t":308.1,"y":30.0},{"s":"C","t":309.1,"y":30.8},{"s":"C","t":310.2,"y":28.6},{"s":"C","t":311.2,"y":30.3},{"s":"C","t":312.2,"y":30.8},{"s":"C","t":313.9,"y":31.3},{"s":"C","t":314.7,"y":32.4},{"s":"C","t":316.4,"y":32.1},{"s":"C","t":317.4,"y":32.1},{"s":"C","t":318.9,"y":32.4},{"s":"C","t":320.5,"y":32.6},{"s":"C","t":322.2,"y":32.3},{"s":"C","t":323.6,"y":31.9},{"s":"C","t":325.1,"y":32.6},{"s":"C","t":326.3,"y":32.9},{"s":"C","t":327.8,"y":32.8},{"s":"C","t":328.8,"y":34.2},{"s":"C","t":329.8,"y":33.1},{"s":"C","t":331.3,"y":32.9},{"s":"C","t":332.5,"y":32.3},{"s":"C","t":333.8,"y":31.4},{"s":"C","t":335,"y":31.3},{"s":"C","t":336.7,"y":31.4},{"s":"C","t":337.5,"y":31.1},{"s":"C","t":338.7,"y":30.8},{"s":"C","t":339.7,"y":31.9},{"s":"C","t":340.8,"y":32.8},{"s":"C","t":341.8,"y":30.6},{"s":"C","t":342.8,"y":29.6},{"s":"C","t":343.9,"y":28.1},{"s":"C","t":344.9,"y":27.3},{"s":"C","t":346,"y":26.7},{"s":"C","t":347,"y":26.8},{"s":"C","t":348,"y":26.7},{"s":"C","t":349.5,"y":26.5},{"s":"C","t":350.7,"y":26.8},{"s":"C","t":351.8,"y":26.7},{"s":"C","t":352.8,"y":25.7},{"s":"C","t":353.6,"y":25.5},{"s":"C","t":354.9,"y":25.5},{"s":"C","t":356.3,"y":25.0},{"s":"C","t":357.8,"y":24.8},{"s":"C","t":359,"y":23.7},{"s":"C","t":360.5,"y":21.9},{"s":"C","t":361.5,"y":21.1},{"s":"C","t":362.5,"y":22.1},{"s":"C","t":363.6,"y":21.1},{"s":"C","t":364.6,"y":20.6},{"s":"C","t":365.6,"y":19.6},{"s":"C","t":366.7,"y":19.6},{"s":"C","t":367.7,"y":20.7},{"s":"C","t":368.7,"y":21.1},{"s":"C","t":369.8,"y":20.4},{"s":"C","t":370.8,"y":20.1},{"s":"C","t":371.8,"y":20.4},{"s":"C","t":372.9,"y":19.9},{"s":"C","t":373.9,"y":20.3},{"s":"C","t":375,"y":20.4},{"s":"C","t":376,"y":21.7},{"s":"C","t":377,"y":21.9},{"s":"C","t":378.5,"y":22.1},{"s":"C","t":379.7,"y":21.9},{"s":"C","t":381.2,"y":22.2},{"s":"C","t":382.2,"y":21.9},{"s":"C","t":383.2,"y":21.1},{"s":"C","t":384.3,"y":21.4},{"s":"C","t":385.3,"y":21.9},{"s":"C","t":386.8,"y":21.4},{"s":"C","t":388,"y":20.9},{"s":"C","t":388.8,"y":22.7},{"s":"C","t":390.1,"y":23.4},{"s":"C","t":391.5,"y":24.4},{"s":"C","t":393,"y":24.5},{"s":"C","t":394.2,"y":25.0},{"s":"C","t":395,"y":23.5},{"s":"C","t":396.3,"y":22.1},{"s":"C","t":397.7,"y":21.7},{"s":"C","t":398.8,"y":24.0},{"s":"C","t":399.8,"y":24.0},{"s":"C","t":400.8,"y":25.0},{"s":"C","t":401.9,"y":25.7},{"s":"C","t":403.3,"y":25.5},{"s":"C","t":404.6,"y":25.5},{"s":"C","t":405.4,"y":26.3},{"s":"C","t":406.6,"y":24.2},{"s":"C","t":408.1,"y":24.0},{"s":"C","t":409.1,"y":23.0},{"s":"C","t":410.2,"y":23.4},{"s":"C","t":411.2,"y":22.7},{"s":"C","t":412.3,"y":23.0},{"s":"C","t":413.3,"y":23.2},{"s":"C","t":414.3,"y":22.1},{"s":"C","t":415.4,"y":22.7},{"s":"C","t":416.4,"y":23.2},{"s":"C","t":417.4,"y":21.9},{"s":"C","t":418.5,"y":21.1},{"s":"C","t":419.5,"y":21.7},{"s":"C","t":420.5,"y":22.2},{"s":"C","t":421.6,"y":22.1},{"s":"C","t":422.6,"y":22.4},{"s":"C","t":423.6,"y":22.9},{"s":"C","t":424.7,"y":22.2},{"s":"C","t":425.7,"y":23.4},{"s":"C","t":426.7,"y":24.4},{"s":"C","t":427.8,"y":24.0},{"s":"C","t":428.8,"y":22.7},{"s":"C","t":429.7,"y":21.9},{"s":"C","t":431.6,"y":22.7},{"s":"C","t":432.6,"y":24.0},{"s":"C","t":433.6,"y":24.8},{"s":"C","t":434.7,"y":26.0},{"s":"C","t":435.7,"y":25.5},{"s":"C","t":436.7,"y":25.2},{"s":"C","t":437.8,"y":24.7},{"s":"C","t":438.8,"y":22.7},{"s":"C","t":439.9,"y":22.6},{"s":"C","t":440.9,"y":22.7},{"s":"C","t":441.9,"y":21.7},{"s":"C","t":443,"y":22.2},{"s":"C","t":444.4,"y":22.4},{"s":"C","t":445.7,"y":21.7},{"s":"C","t":446.5,"y":20.9},{"s":"C","t":447.7,"y":20.7},{"s":"C","t":449.2,"y":20.2},{"s":"C","t":450.2,"y":19.4},{"s":"C","t":451.3,"y":19.3},{"s":"C","t":452.7,"y":20.4},{"s":"C","t":454,"y":21.2},{"s":"C","t":454.8,"y":22.1},{"s":"C","t":456,"y":24.0},{"s":"C","t":456.8,"y":25.7},{"s":"C","t":458.1,"y":25.5},{"s":"C","t":459.5,"y":24.8},{"s":"C","t":460.6,"y":24.0},{"s":"C","t":461.6,"y":22.6},{"s":"C","t":462.6,"y":22.2},{"s":"C","t":463.7,"y":22.6},{"s":"C","t":464.7,"y":22.7},{"s":"C","t":465.8,"y":24.4},{"s":"C","t":466.8,"y":24.7},{"s":"C","t":467.8,"y":23.5},{"s":"C","t":468.9,"y":23.7},{"s":"C","t":469.9,"y":23.7},{"s":"C","t":470.9,"y":23.8},{"s":"C","t":472.6,"y":23.9},{"s":"C","t":474,"y":24.2},{"s":"C","t":475.1,"y":23.7},{"s":"C","t":476.1,"y":23.7},{"s":"C","t":477.2,"y":23.0},{"s":"C","t":478.2,"y":23.0},{"s":"C","t":479.2,"y":22.7},{"s":"C","t":480.3,"y":22.4},{"s":"C","t":481.3,"y":23.0},{"s":"C","t":482.3,"y":23.4},{"s":"C","t":483.4,"y":24.0},{"s":"C","t":484.4,"y":23.0},{"s":"C","t":485.4,"y":24.8},{"s":"C","t":486.5,"y":24.8},{"s":"C","t":487.5,"y":25.0},{"s":"C","t":488.5,"y":26.3},{"s":"C","t":489.6,"y":26.3},{"s":"C","t":490.6,"y":26.5},{"s":"C","t":491.7,"y":25.8},{"s":"C","t":492.7,"y":24.0},{"s":"C","t":493.7,"y":24.5},{"s":"C","t":495.4,"y":24.5},{"s":"C","t":496.2,"y":24.2},{"s":"C","t":497.5,"y":23.5},{"s":"C","t":498.9,"y":24.0},{"s":"C","t":500,"y":24.7}
    ],
    "vlines": [
      {"s": "X", "t": 30},
      {"s": "X", "t": 400},
      {"s": "Y", "t": 78.5},
      {"s": "Y", "t": 250}
    ]
  },
  "layer": [
    {
      "data": {"name": "walks"},
      "mark": {"type": "line", "strokeWidth": 3},
      "encoding": {
        "x": {
          "field": "t",
          "type": "quantitative",
          "title": "time",
          "scale": {"domain": [-24, 524.6], "nice": false, "zero": false},
          "axis": {"values": [0, 200, 400], "labelPadding": 12, "titlePadding": 8}
        },
        "y": {
          "field": "y",
          "type": "quantitative",
          "title": "y",
          "scale": {"domain": [-7.78, 43.79], "nice": false, "zero": false},
          "axis": {"values": [0, 10, 20, 30, 40], "labelPadding": 10, "titlePadding": 12}
        },
        "color": {
          "field": "s",
          "type": "nominal",
          "scale": {
            "domain": ["A", "B", "C", "X", "Y"],
            "range": ["#0072b2", "#e69f00", "#009e73", "#b3b3b3", "#4d4d4d"]
          },
          "legend": {
            "title": "Legend",
            "orient": "none",
            "legendX": 920,
            "legendY": 229,
            "padding": 12,
            "strokeColor": "black",
            "fillColor": "white",
            "titleFontSize": 28,
            "titleFontWeight": "bold",
            "titleColor": "black",
            "titleAnchor": "middle",
            "titlePadding": 19,
            "labelFontSize": 28,
            "labelColor": "black",
            "labelOffset": 6,
            "symbolOffset": 5,
            "symbolSize": 1600,
            "symbolStrokeWidth": 3,
            "symbolType": "stroke",
            "rowPadding": 2,
            "encode": {
              "legend": {
                "update": {"strokeWidth": {"value": 2}}
              },
              "symbols": {
                "update": {
                  "strokeJoin": {"value": "round"},
                  "shape": {"signal": "datum.value == 'X' || datum.value == 'Y' ? 'M0,-1L0,1' : 'M0,-1M-1,0L1,0M0,1'"}
                }
              }
            }
          }
        }
      }
    },
    {
      "data": {"name": "vlines"},
      "mark": {"type": "rule", "strokeWidth": 3},
      "encoding": {
        "x": {"field": "t", "type": "quantitative"},
        "color": {"field": "s", "type": "nominal"}
      }
    }
  ]
}
